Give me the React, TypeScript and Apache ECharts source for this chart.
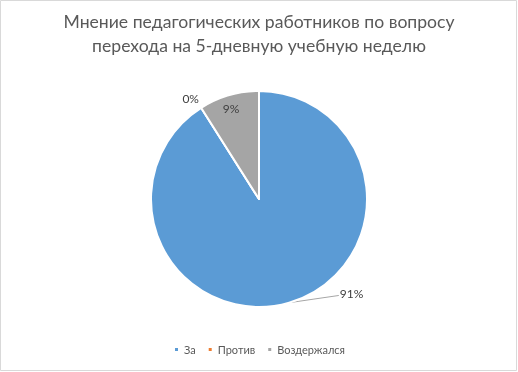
import React, { useEffect, useRef } from "react";
import * as echarts from "echarts";

const titleLines = ["Мнение педагогических работников по вопросу", "перехода на 5-дневную учебную неделю"];
const categories = ["За", "Против", "Воздержался"];
const values = [91, 0, 9];
const colors = ["#5B9BD5", "#ED7D31", "#A5A5A5"];

export default function App() {
  const ref = useRef<HTMLDivElement>(null);
  useEffect(() => {
    if (!ref.current) return;
    const chart = echarts.init(ref.current, null, { renderer: "svg" });
    const font = "Lato, 'Open Sans', sans-serif";
    const labelCfg = [
      { position: "outside", labelLine: { show: true, length: 6, length2: 44 } },
      { position: "outside", labelLine: { show: false, length: 4, length2: 0 } },
      { position: "inside" },
    ];
    const shifts = [
      { dx: 0, dy: -15 },
      { dx: 5, dy: -6 },
      { dx: -12, dy: -36 },
    ];
    chart.setOption({
      animation: false,
      color: colors,
      title: {
        text: titleLines.join("\n"),
        left: "center",
        top: 4,
        textStyle: { fontFamily: font, fontSize: 17.6, fontWeight: "normal", color: "#595959", lineHeight: 24 },
      },
      legend: {
        bottom: 12,
        left: "center",
        icon: "rect",
        itemWidth: 5,
        itemHeight: 5,
        itemGap: 11,
        textStyle: { fontFamily: font, fontSize: 11, color: "#595959" },
        data: categories,
      },
      graphic: [
        {
          type: "rect",
          shape: { x: 0.5, y: 0.5, width: 516, height: 370 },
          style: { fill: "none", stroke: "#D9D9D9", lineWidth: 1 },
          silent: true,
        },
      ],
      series: [
        {
          type: "pie",
          center: [259, 199],
          radius: [0, 108],
          startAngle: 90,
          clockwise: true,
          avoidLabelOverlap: false,
          itemStyle: { borderColor: "#FFFFFF", borderWidth: 2 },
          label: {
            formatter: (p: any) => `${Math.round(p.percent)}%`,
            fontFamily: font,
            fontSize: 12,
            color: "#404040",
          },
          labelLine: { lineStyle: { color: "#A6A6A6", width: 1 }, smooth: false },
          labelLayout: (p: any) => {
            const s = shifts[p.dataIndex] || { dx: 0, dy: 0 };
            const res: any = { dx: s.dx, dy: s.dy };
            if (p.dataIndex === 0 && p.labelLinePoints && p.labelRect) {
              const start = p.labelLinePoints[0];
              const end = [p.labelRect.x + s.dx - 1, p.labelRect.y + s.dy + p.labelRect.height / 2 + 2];
              res.labelLinePoints = [start, [(start[0] + end[0]) / 2, (start[1] + end[1]) / 2], end];
            }
            return res;
          },
          data: categories.map((name, i) => ({
            name,
            value: values[i],
            label: { position: (labelCfg[i] as any).position },
            labelLine: (labelCfg[i] as any).labelLine,
          })),
        },
      ],
    });
    return () => chart.dispose();
  }, []);
  return <div ref={ref} style={{ position: "fixed", left: 0, top: 0, width: 518, height: 372 }} />;
}
